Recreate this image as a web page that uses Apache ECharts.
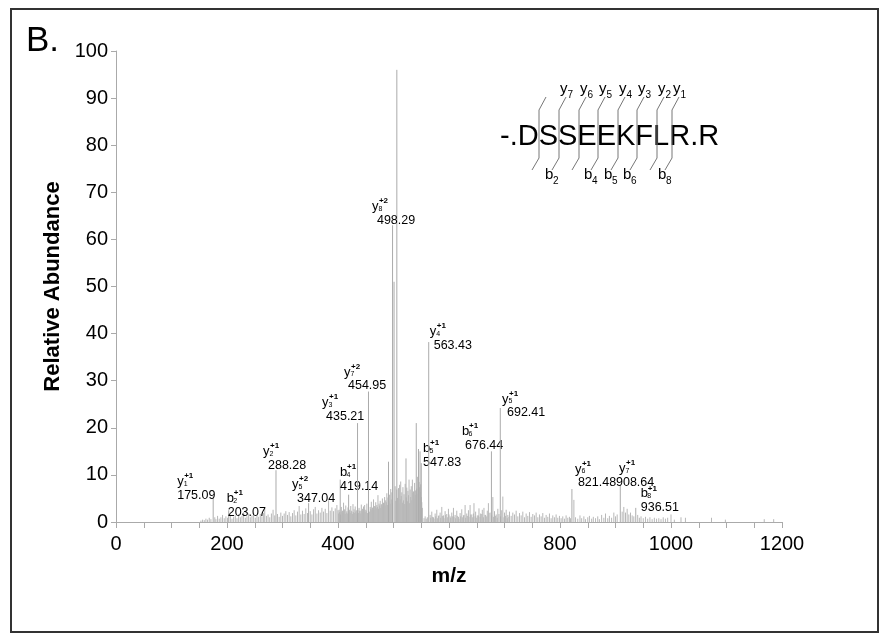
<!DOCTYPE html>
<html><head><meta charset="utf-8">
<script src="https://cdn.jsdelivr.net/npm/echarts@6/dist/echarts.min.js"></script>
<style>html,body{margin:0;padding:0;background:#fff}#c{width:884px;height:639px}</style>
</head><body><div id="c"></div>
<script>
// ---- DATA ----
const xTicks = [0, 200, 400, 600, 800, 1000, 1200];
const yTicks = [0, 10, 20, 30, 40, 50, 60, 70, 80, 90, 100];
// labelled fragment peaks
const peakMz     = [175.09, 203.07, 288.28, 347.04, 419.14, 435.21, 454.95, 498.29, 547.83, 563.43, 676.44, 692.41, 821.48, 908.64, 936.51];
const peakAbund  = [5.5, 2.5, 11.0, 4.0, 5.8, 21.0, 27.7, 63.0, 15.0, 38.2, 15.0, 24.2, 7.0, 7.9, 3.0];
const peakIon    = ['y','b','y','y','b','y','y','y','b','y','b','y','y','y','b'];
const peakNum    = ['1','2','2','5','4','3','7','8','5','4','6','5','6','7','8'];
const peakCharge = ['+1','+1','+1','+2','+1','+1','+2','+2','+1','+1','+1','+1','+1','+1','+1'];
// other strong (unlabelled) peaks
const otherPeaks = [[404,9.0],[491,12.8],[501,51],[506,96],[522.5,13.5],[541,21],[545,15.5],[550,12.5]];
// background noise peaks
const noisePeaks = [
[153,0.3],[156,0.5],[159,0.4],[162,0.7],[165,0.5],[168,0.9],[171,0.6],[178,1.0],[180,0.6],[183,1.3],[186,0.7],[189,1.0],[192,1.5],[195,0.8],[198,1.2],[201,0.9],[206,1.6],[209,0.7],[212,1.1],[215,1.4],[218,0.8],[221,1.7],[224,1.0],[227,1.3],[230,2.1],[233,0.9],[236,1.2],[239,1.8],[242,1.0],[245,1.4],[248,2.0],[251,0.9],[254,1.5],[257,1.1],[260,1.7],[263,1.2],[266,1.9],[268,3.0],[271,1.3],[274,1.6],[277,1.0],[280,1.8],[283,2.6],[286,1.4],
[291,1.7],[294,1.1],[297,2.0],[300,1.3],[303,1.8],[306,2.3],[309,1.5],[312,2.1],[315,1.2],[318,1.9],[321,2.5],[324,1.4],[327,2.2],[330,3.4],[333,1.6],[336,2.4],[339,1.7],[342,2.9],[345,1.9],[350,2.3],[353,1.6],[356,2.7],[359,3.2],[362,1.8],[365,2.5],[368,2.0],[371,3.0],[374,2.2],[377,2.8],[380,1.9],[383,4.6],[386,2.4],[389,3.1],[392,2.3],[395,2.9],[398,3.6],[400,2.5],
[402,2.6],[406,3.2],[408,2.4],[410,4.1],[412,2.7],[414,3.5],[416,2.3],[418,3.1],[421,2.6],[423,3.4],[425,2.2],[427,3.8],[429,2.7],[431,3.3],[433,2.5],[438,3.0],[440,2.4],[442,3.7],[444,2.8],[446,3.3],[448,3.6],[450,2.6],[452,3.9],[458,3.2],[460,4.3],[462,3.0],[464,4.8],[466,3.4],[468,4.2],[470,3.6],[472,5.7],[474,3.9],[476,4.5],[478,3.7],[480,5.0],[482,4.1],[484,5.3],[486,4.6],[488,6.1],[490,5.2],[493,5.8],[495,7.0],[497,6.3],
[401,1.8],[403,2.1],[405,1.6],[407,2.2],[409,1.9],[411,2.5],[413,1.7],[415,2.0],[417,1.8],[420,2.3],[422,1.9],[424,2.4],[426,1.7],[428,2.1],[430,1.9],[432,2.2],[434,1.8],[436,2.6],[437,1.9],[439,2.3],[441,1.8],[443,2.5],[445,2.0],[447,2.7],[449,2.1],[451,2.4],[453,1.9],[455,2.6],[457,2.2],[459,2.8],[461,2.5],[463,3.1],[465,2.6],[467,3.3],[469,2.9],[471,3.2],[473,2.8],[475,3.5],[477,3.0],[479,3.8],[481,3.3],[483,4.0],[485,3.5],[487,4.2],[489,3.6],[492,4.4],[494,3.9],[496,4.8],[498,4.1],
[503,7.6],[506,6.9],[509,7.2],[511,7.9],[513,8.6],[515,6.3],[517,7.4],[519,5.9],[521,8.1],[524,7.3],[526,6.6],[528,9.0],[530,6.9],[532,7.6],[534,9.0],[536,6.5],[538,8.3],[539,5.8],[543,9.6],[547,7.4],[549,8.0],[551,4.2],[552,3.0],
[504,4.5],[507,5.1],[510,3.9],[512,4.8],[514,5.5],[516,4.1],[518,4.6],[520,3.8],[523,5.2],[525,4.4],[527,5.7],[529,4.0],[531,5.3],[533,4.6],[535,6.2],[537,5.0],[540,6.7],[542,7.1],[544,6.0],[546,8.5],[548,6.4],[550,5.3],
[555,0.8],[557,1.2],[559,0.7],[561,1.0],
[566,1.5],[569,2.2],[572,1.0],[575,1.8],[578,2.6],[581,1.3],[584,2.0],[587,3.2],[590,1.4],[593,2.3],[596,1.7],[599,2.8],[602,1.2],[605,2.0],[608,3.0],[611,1.5],[614,2.4],[617,1.1],[620,1.9],[623,2.7],[626,1.4],[629,3.6],[632,1.8],[635,2.5],[638,3.6],[641,1.6],[645,4.0],[648,2.2],[651,1.4],[654,2.9],[657,1.8],[660,2.6],[663,3.0],[666,1.5],[669,2.4],[671,4.0],[674,2.0],[679,5.3],[682,2.3],[685,1.6],[688,2.8],[690,1.7],[695,2.5],[697,5.4],[700,2.0],[703,2.6],[706,1.5],[709,2.2],[712,1.3],[715,2.0],[718,1.6],[721,2.4],[724,1.2],[727,1.9],[730,1.4],[733,2.2],[736,1.0],[739,1.8],[742,1.3],[745,2.1],[748,1.1],[751,1.7],[754,1.4],[757,2.0],[760,1.0],[763,1.6],[766,1.2],[769,1.9],[772,0.9],[775,1.5],[778,1.1],[781,1.8],[784,0.8],[787,1.4],[790,1.0],[793,1.6],[796,0.9],[799,1.3],[802,0.8],[805,1.2],[808,0.7],[811,1.4],[814,0.9],[817,1.1],
[567,0.9],[570,1.1],[573,0.7],[576,1.2],[579,0.8],[582,1.4],[585,0.9],[588,1.3],[591,0.8],[594,1.5],[597,1.0],[600,1.6],[603,0.9],[606,1.2],[609,1.1],[612,0.8],[615,1.3],[618,0.7],[621,1.2],[624,1.0],[627,1.5],[630,0.9],[633,1.3],[636,1.1],[639,1.6],[642,1.0],[644,1.8],[647,1.2],[650,0.9],[653,1.4],[656,1.1],[659,1.7],[662,1.0],[665,1.5],[668,1.2],[672,1.9],[677,1.4],[680,1.1],[684,1.3],[687,0.9],[693,1.2],[699,1.0],[702,1.3],[705,0.8],[708,1.1],
[819,0.8],[825,4.7],[828,1.0],[832,0.7],[836,1.4],[839,0.8],[843,1.2],[846,0.6],[850,1.0],[853,1.3],[857,0.7],[860,1.1],[864,0.8],[868,1.2],[871,0.6],[875,1.5],[879,0.9],[882,1.8],[886,0.8],[889,1.3],[893,0.9],[897,2.0],[900,1.2],[903,1.6],[912,2.2],[915,3.2],[918,2.0],[921,2.8],[924,1.6],[927,2.0],[930,1.4],[933,1.2],[940,1.5],[943,0.9],[946,1.2],[950,0.8],[954,1.1],[958,0.7],[962,1.0],[966,0.6],[970,0.9],[974,0.7],[978,0.8],[982,0.6],[986,1.0],[990,0.7],[994,0.9],[1000,1.6],[1006,0.5],[1018,1.0],[1026,0.9],[1073,0.9],[1098,0.5],[1168,0.6],[1185,0.6]
];
// peptide annotation
const peptide = '-.DSSEEKFLR.R';
const yIonLabels = ['', '7', '6', '5', '4', '3', '2', '1'];
const bIonLabels = ['', '2', '', '4', '5', '6', '', '8'];

// ---- LAYOUT / STYLE (not data) ----
const FONT = '"Liberation Sans", Arial, Helvetica, sans-serif';
const LINE = '#ababab';
const NOISE = '#b8b8b8';
// per-label offsets: [number left - peak x, number centre - peak top, ion left - number left]
const labelLayout = [[-36,-1,0],[-1,2.5,-1],[-8,-5,-5],[-11.6,-5,-5],[-8.6,-8,0],[-31.5,-7,-4],[-20.5,-5.5,-4],[-15.6,-5,-5],[3,11,0],[5,3.5,-4],[-26.4,-6,-3],[6.7,5,-5],[6,-6,-3],[-4.3,-2,3],[5,0,0]];
const markerX = [539, 559, 579, 598, 618, 637, 657, 672];

const chart = echarts.init(document.getElementById('c'), null, {renderer: 'canvas'});

function makeStick(color) {
  return function (params, api) {
    const b = api.coord([api.value(0), 0]);
    const t = api.coord([api.value(0), api.value(1)]);
    return {type: 'line', shape: {x1: b[0], y1: b[1], x2: t[0], y2: t[1]}, style: {stroke: color, lineWidth: 1}};
  };
}

function labelItem(params, api) {
  const i = params.dataIndex;
  const b = api.coord([api.value(0), 0]);
  const t = api.coord([api.value(0), api.value(1)]);
  const L = labelLayout[i];
  const nx = t[0] + L[0], ny = t[1] + L[1];
  const ix = nx + L[2], iy = ny - 14;
  const txt = (s, x, y, size, weight) => ({type: 'text', style: {text: s, x: x, y: y, fontSize: size, fontWeight: weight || 'normal', fontFamily: FONT, fill: '#000', align: 'left', verticalAlign: 'middle'}});
  return {type: 'group', children: [
    {type: 'line', shape: {x1: b[0], y1: b[1], x2: t[0], y2: t[1]}, style: {stroke: LINE, lineWidth: 1}},
    txt(peakMz[i].toFixed(2), nx, ny, 12.5),
    txt(peakIon[i], ix, iy, 13),
    txt(peakNum[i], ix + 6.5, iy + 2.5, 7),
    txt(peakCharge[i], ix + 7, iy - 5.5, 8, 'bold')
  ]};
}

// frame, panel letter and peptide diagram
const gEls = [];
gEls.push({type: 'rect', shape: {x: 11, y: 9, width: 867, height: 623}, style: {fill: 'none', stroke: '#333', lineWidth: 2}});
gEls.push({type: 'text', x: 26, y: 41, style: {text: 'B.', fontSize: 35, fontFamily: FONT, fill: '#000', align: 'left', verticalAlign: 'middle'}});
gEls.push({type: 'text', x: 500, y: 137, style: {text: peptide, fontSize: 29, fontFamily: FONT, fill: '#000', align: 'left', verticalAlign: 'middle'}});
markerX.forEach((mx, k) => {
  gEls.push({type: 'polyline', shape: {points: [[mx + 7, 97], [mx, 110], [mx, 158], [mx - 7, 170]]}, style: {stroke: '#777', lineWidth: 1, fill: 'none'}});
  if (yIonLabels[k]) {
    gEls.push({type: 'text', x: mx + 1, y: 89, style: {text: 'y', fontSize: 15, fontFamily: FONT, fill: '#000', align: 'left', verticalAlign: 'middle'}});
    gEls.push({type: 'text', x: mx + 8.5, y: 95, style: {text: yIonLabels[k], fontSize: 10, fontFamily: FONT, fill: '#000', align: 'left', verticalAlign: 'middle'}});
  }
  if (bIonLabels[k]) {
    gEls.push({type: 'text', x: mx - 14, y: 175, style: {text: 'b', fontSize: 15, fontFamily: FONT, fill: '#000', align: 'left', verticalAlign: 'middle'}});
    gEls.push({type: 'text', x: mx - 6, y: 181, style: {text: bIonLabels[k], fontSize: 10, fontFamily: FONT, fill: '#000', align: 'left', verticalAlign: 'middle'}});
  }
});

const option = {
  animation: false,
  backgroundColor: '#fff',
  grid: {left: 116, right: 102, top: 51, bottom: 117, containLabel: false},
  xAxis: {
    type: 'value', min: xTicks[0], max: xTicks[xTicks.length - 1], interval: 50,
    axisLine: {show: true, lineStyle: {color: '#aaa', width: 1}},
    axisTick: {show: true, length: 6, lineStyle: {color: '#aaa'}},
    axisLabel: {fontSize: 20, fontFamily: FONT, color: '#000', margin: 12,
      formatter: v => (xTicks.indexOf(v) >= 0 ? String(v) : '')},
    splitLine: {show: false},
    name: 'm/z', nameLocation: 'middle', nameGap: 44,
    nameTextStyle: {fontSize: 21, fontWeight: 'bold', fontFamily: FONT, color: '#000'}
  },
  yAxis: {
    type: 'value', min: yTicks[0], max: yTicks[yTicks.length - 1], interval: 10,
    axisLine: {show: true, lineStyle: {color: '#aaa', width: 1}},
    axisTick: {show: true, length: 5, lineStyle: {color: '#aaa'}},
    axisLabel: {fontSize: 20, fontFamily: FONT, color: '#000', margin: 8},
    splitLine: {show: false},
    name: 'Relative Abundance', nameLocation: 'middle', nameGap: 52,
    nameTextStyle: {fontSize: 22, fontWeight: 'bold', fontFamily: FONT, color: '#000'}
  },
  graphic: {elements: gEls},
  series: [
    {type: 'custom', renderItem: makeStick(NOISE), data: noisePeaks, clip: true, z: 2},
    {type: 'custom', renderItem: makeStick(LINE), data: otherPeaks, clip: true, z: 3},
    {type: 'custom', renderItem: labelItem, data: peakMz.map((m, i) => [m, peakAbund[i]]), z: 4}
  ]
};
chart.setOption(option);
</script></body></html>
